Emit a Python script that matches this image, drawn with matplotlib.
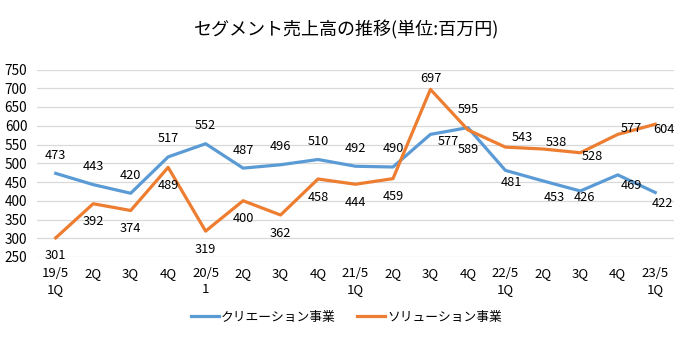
import matplotlib.pyplot as plt

plt.rcParams["font.family"] = ["Noto Sans CJK JP", "DejaVu Sans"]

# =========================
# Data
# =========================

quarters = [
    "19/5\n1Q", "2Q", "3Q", "4Q",
    "20/5\n1", "2Q", "3Q", "4Q",
    "21/5\n1Q", "2Q", "3Q", "4Q",
    "22/5\n1Q", "2Q", "3Q", "4Q",
    "23/5\n1Q",
]

creation = [473, 443, 420, 517, 552, 487, 496, 510, 492,
            490, 577, 595, 481, 453, 426, 469, 422]

solution = [301, 392, 374, 489, 319, 400, 362, 458, 444,
            459, 697, 589, 543, 538, 528, 577, 604]

y_ticks = list(range(250, 751, 50))

# label offsets in points (dx, dy)
creation_off = [(0, 13)] * 10 + [
    (13, -5), (0, 13), (4, -9), (8, -12), (3, -5), (10, -8), (5, -8)]
solution_off = [(0, -13)] * 10 + [
    (0, 8), (0, -14), (12, 7), (10, 5), (9, -3), (10, 4), (6, -4)]

blue = "#5B9BD5"
orange = "#ED7D31"

# =========================
# Plot
# =========================

fig = plt.figure(figsize=(6.93, 3.39), dpi=100)
ax = fig.add_axes([37 / 693, 1 - 257 / 339, 637 / 693, 187.5 / 339])

x = list(range(len(quarters)))

ax.plot(x, creation, color=blue, lw=2.3, label="クリエーション事業")
ax.plot(x, solution, color=orange, lw=2.3, label="ソリューション事業")

for xi, v, (dx, dy) in zip(x, creation, creation_off):
    ax.annotate(str(v), (xi, v), xytext=(dx, dy), textcoords="offset points",
                ha="center", va="center", fontsize=9.2)

for xi, v, (dx, dy) in zip(x, solution, solution_off):
    ax.annotate(str(v), (xi, v), xytext=(dx, dy), textcoords="offset points",
                ha="center", va="center", fontsize=9.2)

ax.set_xlim(-0.5, len(quarters) - 0.5)
ax.set_ylim(250, 750)
ax.set_yticks(y_ticks)
ax.set_xticks(x)
ax.set_xticklabels(quarters, fontsize=9.5, linespacing=1.3)
ax.tick_params(axis="y", labelsize=9.8, length=0, pad=7)
ax.tick_params(axis="x", length=0, pad=7)

ax.grid(axis="y", color="#D9D9D9", lw=0.9)
ax.set_axisbelow(True)
for s in ax.spines.values():
    s.set_visible(False)

fig.text(0.5, 1 - 30 / 339, "セグメント売上高の推移(単位:百万円)",
         ha="center", va="center", fontsize=13)

fig.legend(loc="center", bbox_to_anchor=(0.5, 1 - 317 / 339), ncol=2,
           frameon=False, fontsize=9.2, handlelength=2.2, columnspacing=1.7,
           handletextpad=0.15)

fig.savefig("out.png", dpi=100)
